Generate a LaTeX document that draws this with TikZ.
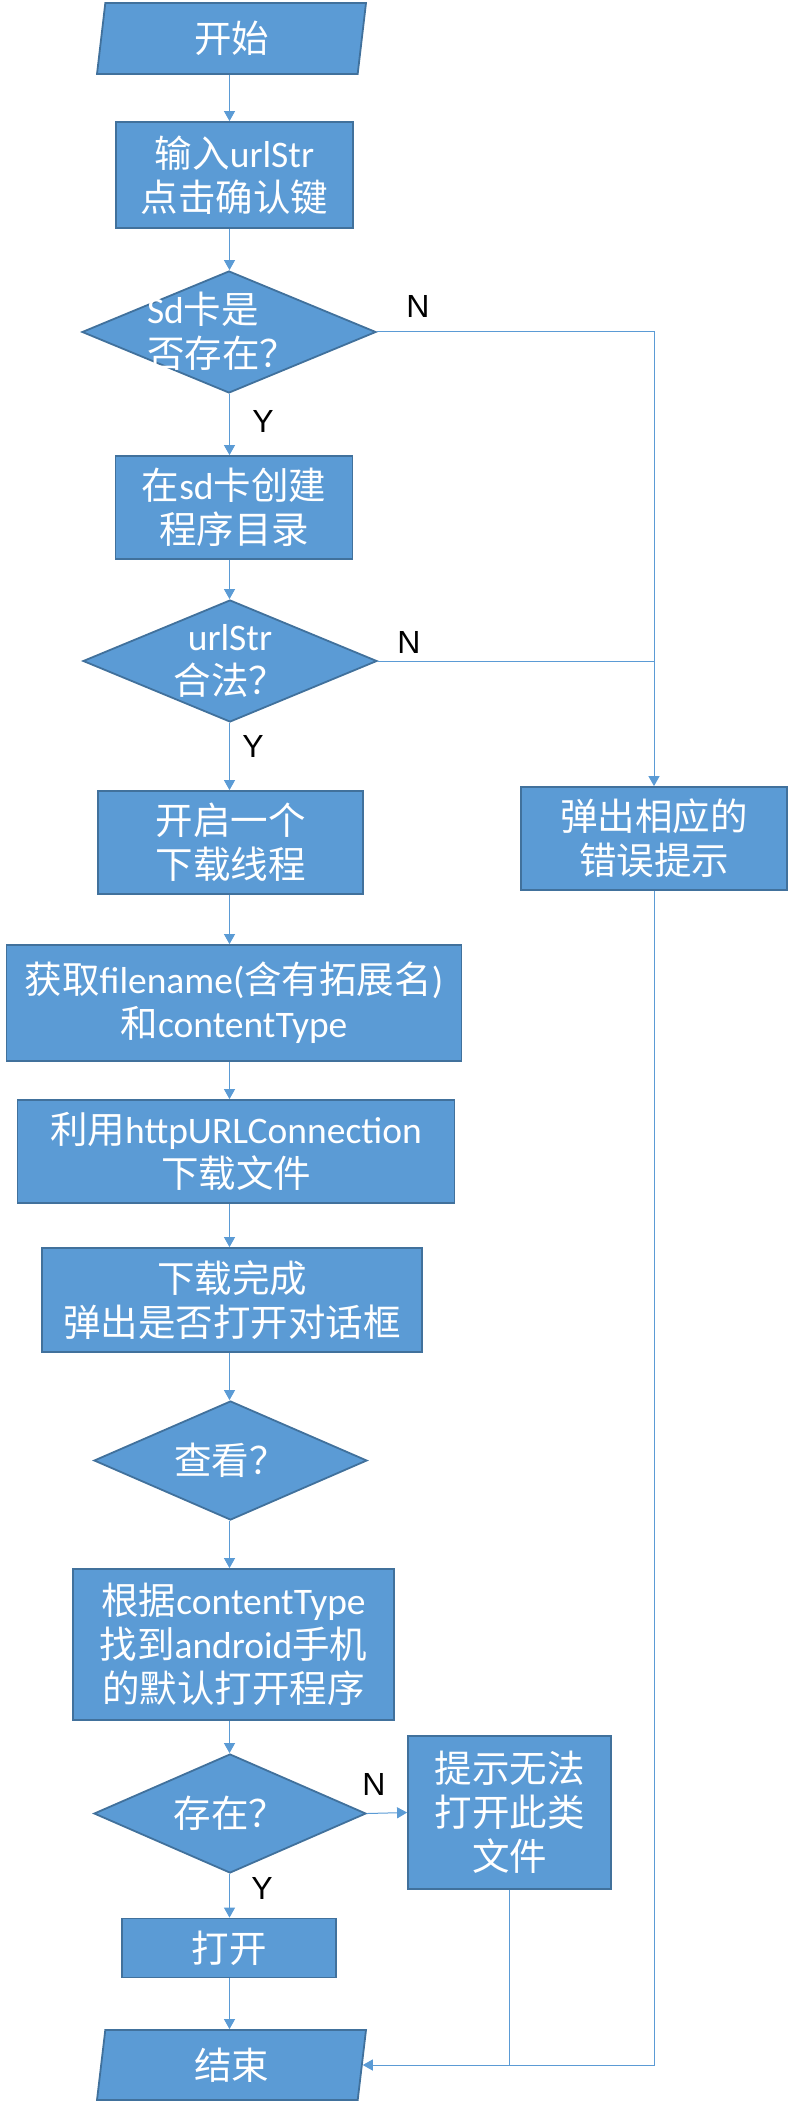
\documentclass[tikz,border=0pt]{standalone}
\usepackage{fontspec}
\setmainfont{Noto Sans CJK SC}
\newfontfamily\carlito{Carlito}
\newfontfamily\arialfont{Liberation Sans}
\newcommand{\lat}[1]{{\carlito #1}}
\usetikzlibrary{shapes.geometric,arrows.meta}
\definecolor{boxblue}{HTML}{5B9BD5}
\definecolor{edgeblue}{HTML}{41719C}

\begin{document}
\begin{tikzpicture}[x=1pt,y=-1pt,
  blk/.style={draw=edgeblue,line width=1.8pt,fill=boxblue,text=white,inner sep=0pt,align=center,font=\fontsize{37.5}{44}\selectfont},
  proc/.style={blk,rectangle},
  dec/.style={blk,diamond},
  io/.style={blk,trapezium,trapezium left angle=76.5,trapezium right angle=103.5,trapezium stretches body},
  txt/.style={text=white,inner sep=0pt,font=\fontsize{37.5}{44}\selectfont},
  yn/.style={inner sep=0pt,font=\arialfont\fontsize{32}{32}\selectfont},
  wire/.style={draw=boxblue,line width=1pt},
  conn/.style={wire,-{Triangle[width=11pt,length=10pt]}}]
\useasboundingbox (0,0) rectangle (788,2108);
\coordinate (spine) at (229.5,0);
% main column
\node[io,minimum width=269,minimum height=71] (start) at (231.5,38.5) {开始};
\node[proc,minimum width=237,minimum height=106] (input) at (234.5,175) {输入\lat{urlStr}\\点击确认键};
\node[dec,minimum width=294,minimum height=122] (d1) at (229,332) {};
\node[txt,align=left] (d1t) at (222,331) {\lat{Sd}卡是\\否存在？};
\node[proc,minimum width=237,minimum height=103] (sdbox) at (234,507.5) {在\lat{sd}卡创建\\程序目录};
\node[dec,minimum width=294,minimum height=122] (d2) at (230,661) {};
\node[txt,align=center] (d2t) at (d2) {\lat{urlStr}\\合法？};
\node[proc,minimum width=265,minimum height=103] (thread) at (230.5,842.5) {开启一个\\下载线程};
\node[proc,minimum width=455,minimum height=116] (getname) at (234,1003) {获取\lat{filename(}含有拓展名\lat{)}\\和\lat{contentType}};
\node[proc,minimum width=437,minimum height=103] (http) at (236,1151.5) {利用\lat{httpURLConnection}\\下载文件};
\node[proc,minimum width=380,minimum height=104] (done) at (232,1300) {下载完成\\弹出是否打开对话框};
\node[dec,minimum width=273,minimum height=119] (d3) at (230.5,1460.5) {};
\node[txt] (d3t) at (d3) {查看？};
\node[proc,minimum width=321,minimum height=151] (find) at (233.5,1644.5) {根据\lat{contentType}\\找到\lat{android}手机\\的默认打开程序};
\node[dec,minimum width=272,minimum height=119] (d4) at (230,1813.5) {};
\node[txt] (d4t) at (d4) {存在？};
\node[proc,minimum width=214,minimum height=59] (open) at (229,1948) {打开};
\node[io,minimum width=269,minimum height=70] (end) at (231.5,2065) {结束};
% side boxes
\node[proc,minimum width=266,minimum height=103] (err) at (654,838.5) {弹出相应的\\错误提示};
\node[proc,minimum width=203,minimum height=153] (tip) at (509.5,1812.5) {提示无法\\打开此类\\文件};
% connectors
\foreach \a/\b in {start/input,input/d1,d1/sdbox,sdbox/d2,d2/thread,thread/getname,getname/http,http/done,done/d3,d3/find,find/d4,d4/open,open/end}
  \draw[conn] (\a.south -| spine) -- (\b.north -| spine);
\draw[conn] (d1.east) -| (err.north);
\draw[wire] (d2.east) -- (d2.east -| err.north);
\draw[conn] (d4.east) -- (tip.west);
\draw[conn] (err.south) |- (end.east);
\draw[wire] (tip.south) -- (tip.south |- end.east);
% Y/N labels
\node[yn] (n1) at (418,306) {N};
\node[yn] (y1) at (263,421) {Y};
\node[yn] (n2) at (409,642) {N};
\node[yn] (y2) at (253,746) {Y};
\node[yn] (n3) at (374,1784) {N};
\node[yn] (y3) at (262,1888) {Y};
\end{tikzpicture}
\end{document}
